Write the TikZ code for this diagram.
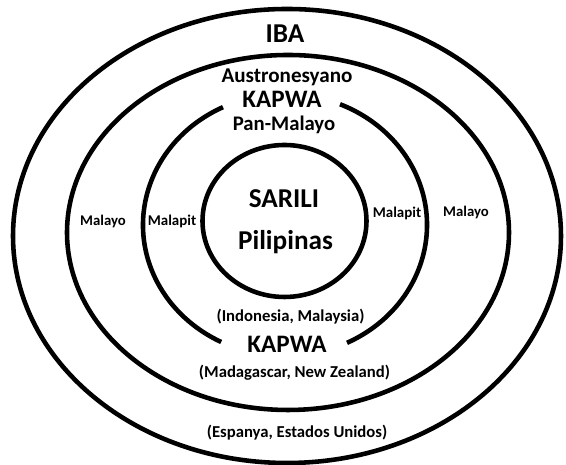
\documentclass[tikz,border=0pt]{standalone}
\usepackage{fontspec}
\setmainfont{Carlito}
\usetikzlibrary{positioning}

\tikzset{
  ring/.style={line width=2.6pt},
  lbl/.style={anchor=base, inner sep=0pt, font=\bfseries}
}
\newcommand{\fs}[1]{\fontsize{#1}{#1}\selectfont}

\begin{document}
\begin{tikzpicture}[x=0.02cm, y=0.02cm]
\useasboundingbox (0,0) rectangle (566,465);

% rings
\draw[ring] (287,229) ellipse [x radius=274, y radius=227];
\draw[ring] (288,232.5) ellipse [x radius=221, y radius=177.5];
\draw[ring] (285,240) ++(115.9:142 and 131) arc[start angle=115.9, end angle=243.3, x radius=142, y radius=131];
\draw[ring] (285,240) ++(-64.1:142 and 131) arc[start angle=-64.1, end angle=67.2, x radius=142, y radius=131];
\draw[ring] (284.5,244) ellipse [x radius=82, y radius=76];

% top labels
\node[lbl] (iba) at (285, 422) {\fs{15.5}IBA};
\node[lbl] (austro) at (287, 382) {\fs{12}Austronesyano};
\node[lbl] (kapwa1) at (282, 357) {\fs{14.3}KAPWA};
\node[lbl] (panmalayo) at (284, 334) {\fs{11.8}Pan-Malayo};

% centre
\node[lbl] (sarili) at (284, 257) {\fs{15.5}SARILI};
\node[lbl] (pilipinas) at (285.5, 215) {\fs{15.5}Pilipinas};

% sides
\node[lbl] (malayoL) at (103, 239) {\fs{8.4}Malayo};
\node[lbl] (malapitL) at (172, 239) {\fs{8.5}Malapit};
\node[lbl] (malapitR) at (397, 247) {\fs{8.5}Malapit};
\node[lbl] (malayoR) at (466, 248) {\fs{8.4}Malayo};

% bottom labels
\node[lbl] (indo) at (290.5, 143) {\fs{9.5}(Indonesia, Malaysia)};
\node[lbl] (kapwa2) at (287, 112) {\fs{14.3}KAPWA};
\node[lbl] (madag) at (294.5, 87) {\fs{9.5}(Madagascar, New Zealand)};
\node[lbl] (espanya) at (297, 27) {\fs{9.5}(Espanya, Estados Unidos)};
\end{tikzpicture}
\end{document}
